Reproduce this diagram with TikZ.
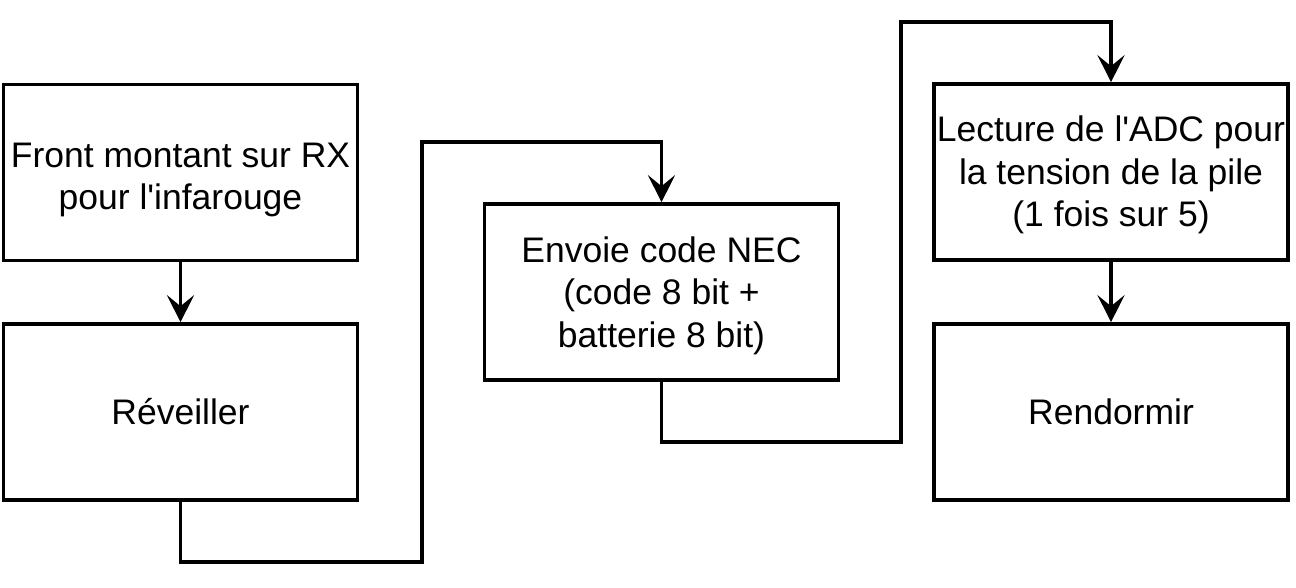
\documentclass[tikz,border=0pt]{standalone}
\usepackage{fontspec}
\setmainfont{Liberation Sans}
\usetikzlibrary{arrows.meta}
\newcommand{\dstrut}[1]{\rule{0pt}{#1pt}}
\begin{document}
\begin{tikzpicture}[x=1pt,y=-1pt,
  box/.style={draw,line width=3.6pt,minimum width=354pt,minimum height=176pt,align=center,inner sep=0pt,font=\fontsize{35.5}{42.5}\selectfont},
  conn/.style={line width=3.6pt,-{Stealth[length=27pt,width=27pt,inset=11pt]}}]
\useasboundingbox (0,0) rectangle (1296,588);
\node[box] (a) at (180.5,172.5) {\dstrut{39}Front montant sur RX\\pour l\textquotesingle infarouge};
\node[box] (b) at (180.5,412) {Réveiller};
\node[box] (c) at (661.5,292) {\dstrut{33}Envoie code NEC\\(code 8 bit +\\batterie 8 bit)};
\node[box] (d) at (1111,172) {\dstrut{32}Lecture de l\textquotesingle ADC pour\\la tension de la pile\\(1 fois sur 5)};
\node[box] (e) at (1111,412) {Rendormir};
\draw[conn] (a.south) -- (b.north);
\draw[conn] (b.south) -- ++(0,60) -| (422,142) -| (c.north);
\draw[conn] (c.south) -- ++(0,60) -| (901,22) -| (d.north);
\draw[conn] (d.south) -- (e.north);
\end{tikzpicture}
\end{document}
